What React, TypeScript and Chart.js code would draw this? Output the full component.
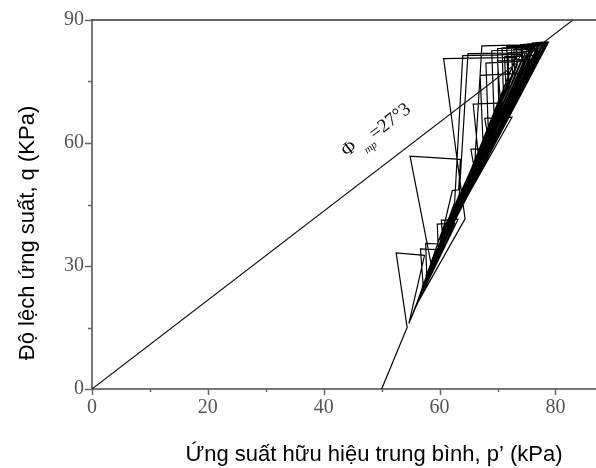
import React, { useEffect, useRef } from "react";
import { Chart, registerables } from "chart.js";

Chart.register(...registerables);

// Axis ticks
const xTicks = [0, 20, 40, 60, 80];
const xMinorTicks = [10, 30, 50, 70];
const yTicks = [0, 30, 60, 90];
const yMinorTicks = [15, 45, 75];

// Failure line (critical state line)
const failureP = [0, 83.0];
const failureQ = [0, 90];

// Cyclic stress path (p', q)
const pathP = [
  50.0, 54.4, 52.5, 57.4, 54.7, 57.2, 56.7, 59.6, 55.0, 57.8,
  57.6, 60.4, 55.3, 58.6, 54.9, 63.6, 63.3, 62.2, 60.8, 55.6,
  59.8, 59.6, 62.6, 55.9, 60.6, 60.3, 63.2, 56.2, 64.4, 60.7,
  73.2, 56.5, 62.6, 64.0, 74.0, 56.8, 63.4, 64.9, 74.8, 57.1,
  66.0, 67.3, 76.2, 57.4, 66.8, 65.8, 70.8, 57.7, 67.5, 67.0,
  73.6, 58.0, 68.4, 68.0, 74.8, 58.3, 69.4, 69.0, 75.6, 58.6,
  70.2, 70.0, 76.4, 58.9, 71.0, 70.8, 76.9, 59.2, 71.8, 71.6,
  77.3, 59.5, 72.6, 72.4, 77.7, 59.8, 73.4, 73.2, 78.0, 60.1,
  74.2, 74.0, 78.3, 60.4, 75.0, 75.2, 78.4, 60.8, 76.0, 76.0,
  78.5, 60.0, 72.0, 71.8, 77.0, 58.0, 70.5, 70.0, 76.0, 57.0,
  74.5, 74.2, 78.2, 61.5, 75.5, 75.3, 78.6, 62.5, 76.5, 76.4,
  78.8, 59.0, 73.0, 72.8, 77.6, 57.6, 71.5, 71.2, 77.2, 61.0,
  68.5, 67.8, 72.5, 59.4, 66.2, 65.4, 69.0, 60.6, 76.8, 76.8,
  78.7,
];
const pathQ = [
  0.0, 15.0, 33.2, 32.6, 16.0, 24.5, 34.2, 34.0, 17.0, 27.0,
  35.5, 35.3, 18.0, 30.0, 56.8, 56.0, 48.6, 48.4, 40.0, 19.0,
  33.0, 40.2, 40.4, 20.0, 35.0, 41.2, 41.4, 21.0, 41.5, 80.6,
  80.9, 22.0, 45.5, 81.3, 81.6, 23.0, 47.5, 81.8, 82.0, 24.0,
  53.5, 83.7, 84.0, 25.0, 55.5, 69.5, 69.8, 26.0, 60.0, 76.5,
  77.0, 27.0, 63.5, 79.5, 80.0, 28.0, 67.0, 82.5, 82.8, 29.0,
  70.0, 83.0, 83.3, 30.0, 72.5, 83.2, 83.6, 31.0, 75.0, 83.5,
  83.8, 32.0, 77.0, 83.6, 84.0, 33.0, 79.0, 83.8, 84.2, 34.0,
  80.5, 84.0, 84.3, 35.0, 81.5, 84.2, 84.4, 36.0, 82.5, 84.4,
  84.6, 36.5, 74.0, 82.0, 82.5, 28.5, 70.0, 80.0, 80.5, 25.0,
  78.0, 83.5, 83.8, 40.0, 80.0, 84.0, 84.4, 43.0, 82.0, 84.2,
  84.6, 31.5, 76.0, 82.8, 83.2, 27.5, 73.0, 81.0, 81.4, 38.0,
  60.5, 66.0, 66.3, 33.5, 52.0, 58.5, 58.7, 39.0, 82.5, 84.5,
  84.7,
];

const xTitle = "Ứng suất hữu hiệu trung bình, p’ (kPa)";
const yTitle = "Độ lệch ứng suất, q (KPa)";
const phiSymbol = "Φ";
const phiSub = "mp";
const phiValue = "=27°3";
const phiAnchorP = 44.4;
const phiAnchorQ = 58.5;

const SERIF = '"Liberation Serif", "Times New Roman", serif';
const SANS = '"Liberation Sans", Arial, sans-serif';

export default function App() {
  const ref = useRef<HTMLCanvasElement | null>(null);

  useEffect(() => {
    const canvas = ref.current;
    if (!canvas) return;

    const decor = {
      id: "decor",
      afterDraw(chart: any) {
        const { ctx, chartArea } = chart;
        const xs = chart.scales.x;
        const ys = chart.scales.y;
        ctx.save();
        // top border
        ctx.strokeStyle = "#333";
        ctx.lineWidth = 1.5;
        ctx.beginPath();
        ctx.moveTo(chartArea.left, chartArea.top);
        ctx.lineTo(chartArea.right, chartArea.top);
        ctx.stroke();

        // ticks
        ctx.strokeStyle = "#666";
        ctx.lineWidth = 1.5;
        const b = chartArea.bottom;
        const l = chartArea.left;
        xTicks.forEach((v) => {
          const px = Math.round(xs.getPixelForValue(v)) + 0.5;
          ctx.beginPath();
          ctx.moveTo(px, b);
          ctx.lineTo(px, b + 6);
          ctx.stroke();
        });
        xMinorTicks.forEach((v) => {
          const px = Math.round(xs.getPixelForValue(v)) + 0.5;
          ctx.beginPath();
          ctx.moveTo(px, b);
          ctx.lineTo(px, b + 3);
          ctx.stroke();
        });
        yTicks.forEach((v) => {
          const py = Math.round(ys.getPixelForValue(v)) + 0.5;
          ctx.beginPath();
          ctx.moveTo(l - 7, py);
          ctx.lineTo(l, py);
          ctx.stroke();
        });
        yMinorTicks.forEach((v) => {
          const py = Math.round(ys.getPixelForValue(v)) + 0.5;
          ctx.beginPath();
          ctx.moveTo(l - 4, py);
          ctx.lineTo(l, py);
          ctx.stroke();
        });

        // axis titles
        ctx.fillStyle = "#000";
        ctx.font = `22px ${SANS}`;
        ctx.textAlign = "center";
        ctx.textBaseline = "alphabetic";
        ctx.fillText(xTitle, 374, 461);
        ctx.save();
        ctx.translate(34, 233);
        ctx.rotate(-Math.PI / 2);
        ctx.fillText(yTitle, 0, 0);
        ctx.restore();

        // friction angle annotation
        const x0 = xs.getPixelForValue(failureP[0]);
        const y0 = ys.getPixelForValue(failureQ[0]);
        const x1 = xs.getPixelForValue(failureP[1]);
        const y1 = ys.getPixelForValue(failureQ[1]);
        const ang = Math.atan2(y1 - y0, x1 - x0);
        ctx.save();
        ctx.translate(xs.getPixelForValue(phiAnchorP), ys.getPixelForValue(phiAnchorQ));
        ctx.rotate(ang);
        ctx.fillStyle = "#111";
        ctx.textAlign = "center";
        ctx.textBaseline = "middle";
        ctx.font = `19px ${SERIF}`;
        ctx.fillText(phiSymbol, 0, 0);
        ctx.font = `italic 11px ${SERIF}`;
        ctx.fillText(phiSub, 18, 12);
        ctx.textAlign = "left";
        ctx.font = `19px ${SERIF}`;
        ctx.fillText(phiValue, 26, 3);
        ctx.restore();

        ctx.restore();
      },
    };

    const chart = new Chart(canvas, {
      type: "line",
      data: {
        datasets: [
          {
            data: failureP.map((p, i) => ({ x: p, y: failureQ[i] })),
            borderColor: "#111",
            borderWidth: 1.1,
            pointRadius: 0,
            tension: 0,
            fill: false,
          },
          {
            data: pathP.map((p, i) => ({ x: p, y: pathQ[i] })),
            borderColor: "#000",
            borderWidth: 1.2,
            pointRadius: 0,
            tension: 0,
            fill: false,
          },
        ],
      },
      options: {
        responsive: false,
        animation: false,
        layout: { padding: { top: 17, right: 0, left: 0, bottom: 0 } },
        plugins: { legend: { display: false }, tooltip: { enabled: false } },
        scales: {
          x: {
            type: "linear",
            min: 0,
            max: 87,
            afterBuildTicks: (s: any) => {
              s.ticks = xTicks.map((v) => ({ value: v }));
            },
            afterFit: (s: any) => {
              s.height = 79;
            },
            ticks: {
              autoSkip: false,
              maxRotation: 0,
              padding: 7,
              color: "#555",
              font: { family: SERIF, size: 20 },
            },
            grid: { display: false, drawTicks: false },
            border: { display: true, color: "#777", width: 2 },
          },
          y: {
            type: "linear",
            min: 0,
            max: 90,
            afterBuildTicks: (s: any) => {
              s.ticks = yTicks.map((v) => ({ value: v }));
            },
            afterFit: (s: any) => {
              s.width = 92;
            },
            ticks: {
              autoSkip: false,
              padding: 8,
              color: "#555",
              font: { family: SERIF, size: 20 },
            },
            grid: { display: false, drawTicks: false },
            border: { display: true, color: "#777", width: 2 },
          },
        },
      },
      plugins: [decor],
    });

    return () => chart.destroy();
  }, []);

  return (
    <div style={{ position: "absolute", left: 0, top: 0, width: 596, height: 468, background: "#fff" }}>
      <canvas ref={ref} width={596} height={468} style={{ display: "block" }} />
    </div>
  );
}
